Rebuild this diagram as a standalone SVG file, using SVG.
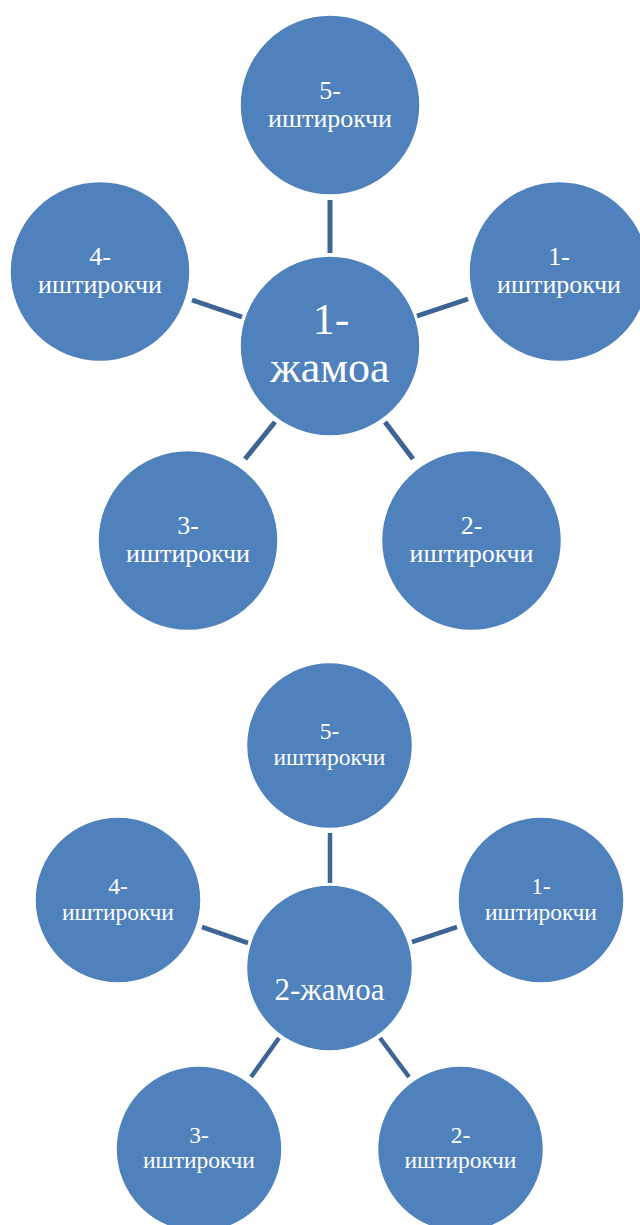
<svg xmlns="http://www.w3.org/2000/svg" width="640" height="1225" viewBox="0 0 640 1225">
<style>
.n{fill:#4F81BD;stroke:#FFFFFF;stroke-width:1.5}
.t{fill:#FFFFFF;text-anchor:middle}
.c{stroke:#3C6494;stroke-width:5;fill:none}
</style>
<rect width="640" height="1225" fill="#FFFFFF"/>
<g id="connectors">
<line class="c" x1="330" y1="200" x2="330" y2="253"/>
<line class="c" x1="417" y1="316" x2="468" y2="299"/>
<line class="c" x1="192" y1="300" x2="242" y2="317"/>
<line class="c" x1="385" y1="422" x2="413" y2="459"/>
<line class="c" x1="275" y1="422" x2="245" y2="459"/>
<line class="c" x1="330" y1="833" x2="330" y2="883" style="stroke-width:4.5"/>
<line class="c" x1="412" y1="942" x2="457" y2="927" style="stroke-width:4.5"/>
<line class="c" x1="202" y1="927" x2="248" y2="943" style="stroke-width:4.5"/>
<line class="c" x1="380" y1="1038" x2="409" y2="1077" style="stroke-width:4.5"/>
<line class="c" x1="279" y1="1038" x2="251" y2="1077" style="stroke-width:4.5"/>
</g>
<g font-family="'Liberation Serif', 'DejaVu Serif', serif">
<g id="team1">
<circle class="n" cx="330" cy="346" r="90"/>
<text class="t" x="331" y="334" font-size="44">1-</text>
<text class="t" x="330" y="382" font-size="44">жамоа</text>
</g>
<g id="t1p5">
<circle class="n" cx="330" cy="105" r="90"/>
<text class="t" x="330" y="99" font-size="26">5-</text>
<text class="t" x="330" y="127" font-size="26">иштирокчи</text>
</g>
<g id="t1p1">
<circle class="n" cx="559" cy="271.5" r="90"/>
<text class="t" x="559" y="265" font-size="26">1-</text>
<text class="t" x="559" y="293" font-size="26">иштирокчи</text>
</g>
<g id="t1p4">
<circle class="n" cx="100" cy="271.5" r="90"/>
<text class="t" x="100" y="265" font-size="26">4-</text>
<text class="t" x="100" y="293" font-size="26">иштирокчи</text>
</g>
<g id="t1p2">
<circle class="n" cx="471.5" cy="540.5" r="90"/>
<text class="t" x="471.5" y="534" font-size="26">2-</text>
<text class="t" x="471.5" y="562" font-size="26">иштирокчи</text>
</g>
<g id="t1p3">
<circle class="n" cx="188" cy="540.5" r="90"/>
<text class="t" x="188" y="534" font-size="26">3-</text>
<text class="t" x="188" y="562" font-size="26">иштирокчи</text>
</g>
<g id="team2">
<circle class="n" cx="329.5" cy="968" r="83"/>
<text class="t" x="329.5" y="1000" font-size="31">2-жамоа</text>
</g>
<g id="t2p5">
<circle class="n" cx="329.5" cy="745.5" r="83"/>
<text class="t" x="329.5" y="739" font-size="23.5">5-</text>
<text class="t" x="329.5" y="765" font-size="23.5">иштирокчи</text>
</g>
<g id="t2p1">
<circle class="n" cx="541" cy="900" r="83"/>
<text class="t" x="541" y="893.5" font-size="23.5">1-</text>
<text class="t" x="541" y="919.5" font-size="23.5">иштирокчи</text>
</g>
<g id="t2p4">
<circle class="n" cx="118" cy="900" r="83"/>
<text class="t" x="118" y="893.5" font-size="23.5">4-</text>
<text class="t" x="118" y="919.5" font-size="23.5">иштирокчи</text>
</g>
<g id="t2p2">
<circle class="n" cx="460.5" cy="1149" r="83"/>
<text class="t" x="460.5" y="1143" font-size="23.5">2-</text>
<text class="t" x="460.5" y="1168" font-size="23.5">иштирокчи</text>
</g>
<g id="t2p3">
<circle class="n" cx="199" cy="1149" r="83"/>
<text class="t" x="199" y="1143" font-size="23.5">3-</text>
<text class="t" x="199" y="1168" font-size="23.5">иштирокчи</text>
</g>
</g>
</svg>
